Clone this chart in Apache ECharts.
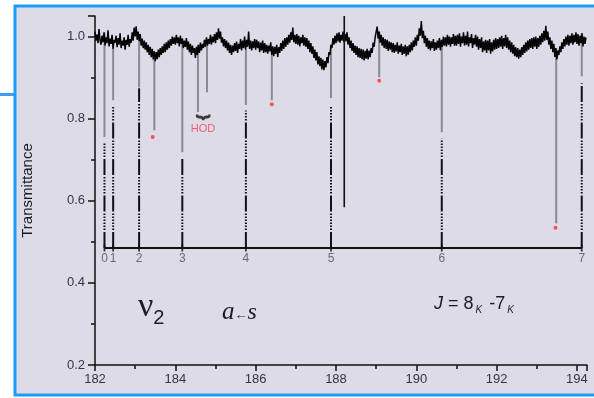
<!DOCTYPE html>
<html>
<head>
<meta charset="utf-8">
<script src="https://cdn.jsdelivr.net/npm/echarts@6/dist/echarts.min.js"></script>
<style>
  html, body { margin: 0; padding: 0; background: #ffffff; }
  #main { width: 594px; height: 398px; }
</style>
</head>
<body>
<div id="main"></div>
<script>
// spectrum trace, sampled every 0.025 cm-1 from 182.000
var traceStart = 182.0;
var traceStep = 0.025;
var traceValues = [
  1.012, 0.990, 1.005, 0.984, 1.018, 0.992, 0.980, 1.002, 0.986, 1.010,
  0.978, 0.998, 0.984, 1.015, 0.976, 0.995, 0.982, 1.004, 0.970, 0.992,
  0.985, 1.002, 0.974, 0.996, 0.980, 1.008, 0.972, 0.990, 0.978, 0.998,
  0.968, 0.992, 0.980, 1.004, 0.975, 0.994, 0.985, 1.010, 0.990, 1.022,
  // 183
  1.000, 1.025, 0.992, 1.012, 0.988, 1.006, 0.978, 0.995, 0.972, 0.990,
  0.968, 0.986, 0.962, 0.980, 0.955, 0.975, 0.950, 0.970, 0.944, 0.964,
  0.940, 0.962, 0.945, 0.968, 0.950, 0.972, 0.955, 0.976, 0.960, 0.982,
  0.962, 0.986, 0.968, 0.990, 0.972, 0.994, 0.978, 1.000, 0.982, 0.998,
  // 184
  0.980, 1.004, 0.984, 0.998, 0.976, 1.002, 0.982, 0.995, 0.972, 0.990,
  0.975, 0.996, 0.968, 0.988, 0.962, 0.982, 0.955, 0.978, 0.960, 0.972,
  0.948, 0.975, 0.955, 0.980, 0.960, 0.985, 0.966, 0.982, 0.972, 0.992,
  0.975, 0.998, 0.978, 0.994, 0.982, 1.004, 0.980, 1.000, 0.986, 1.006,
  // 185
  0.984, 1.010, 0.992, 1.020, 0.995, 1.012, 0.985, 0.998, 0.976, 0.994,
  0.972, 0.990, 0.966, 0.985, 0.960, 0.980, 0.955, 0.978, 0.962, 0.984,
  0.965, 0.988, 0.960, 0.982, 0.970, 0.994, 0.966, 0.990, 0.972, 1.000,
  0.968, 0.992, 0.975, 1.012, 0.970, 0.990, 0.966, 0.988, 0.972, 0.994,
  // 186
  0.968, 0.992, 0.972, 0.988, 0.962, 0.985, 0.966, 0.990, 0.960, 0.984,
  0.962, 0.980, 0.958, 0.978, 0.964, 0.986, 0.955, 0.976, 0.952, 0.975,
  0.958, 0.980, 0.950, 0.974, 0.960, 0.984, 0.965, 0.990, 0.970, 0.996,
  0.975, 0.998, 0.980, 1.004, 0.985, 1.010, 0.992, 1.022, 0.986, 1.004,
  // 187
  0.982, 1.006, 0.980, 1.002, 0.976, 0.998, 0.984, 1.004, 0.978, 0.998,
  0.975, 0.996, 0.970, 0.990, 0.962, 0.984, 0.958, 0.976, 0.948, 0.968,
  0.942, 0.962, 0.932, 0.952, 0.928, 0.948, 0.920, 0.944, 0.918, 0.940,
  0.925, 0.950, 0.935, 0.962, 0.955, 0.980, 0.972, 0.996, 0.980, 1.002,
  // 188
  0.984, 1.008, 0.988, 1.010, 0.985, 1.004, 0.990, 1.012, 0.986, 1.006,
  0.988, 1.010, 0.980, 0.998, 0.972, 0.990, 0.965, 0.984, 0.960, 0.978,
  0.955, 0.976, 0.950, 0.972, 0.948, 0.970, 0.945, 0.968, 0.942, 0.965,
  0.946, 0.970, 0.944, 0.966, 0.950, 0.972, 0.960, 0.985, 0.975, 0.998,
  // 189
  1.000, 1.024, 0.995, 1.012, 0.985, 1.004, 0.978, 0.998, 0.972, 0.994,
  0.970, 0.992, 0.965, 0.988, 0.968, 0.986, 0.962, 0.984, 0.960, 0.980,
  0.964, 0.986, 0.958, 0.978, 0.962, 0.982, 0.955, 0.976, 0.958, 0.980,
  0.952, 0.976, 0.956, 0.980, 0.962, 0.986, 0.966, 0.990, 0.975, 0.998,
  // 190
  0.978, 1.004, 0.990, 1.020, 1.002, 1.038, 0.996, 1.014, 0.984, 1.002,
  0.975, 0.996, 0.970, 0.990, 0.966, 0.988, 0.972, 0.994, 0.965, 0.986,
  0.968, 0.990, 0.972, 0.996, 0.966, 0.992, 0.975, 1.000, 0.978, 0.998,
  0.976, 1.004, 0.980, 1.000, 0.975, 0.998, 0.982, 1.006, 0.978, 1.002,
  // 191
  0.978, 1.004, 0.982, 1.008, 0.975, 1.000, 0.984, 1.010, 0.978, 1.002,
  0.980, 1.012, 0.976, 0.998, 0.984, 1.006, 0.972, 0.996, 0.980, 1.004,
  0.975, 1.000, 0.968, 0.994, 0.972, 0.998, 0.962, 0.988, 0.966, 0.992,
  0.960, 0.990, 0.966, 0.994, 0.958, 0.986, 0.964, 0.992, 0.968, 0.996,
  // 192
  0.970, 0.994, 0.972, 0.998, 0.975, 1.002, 0.970, 0.996, 0.976, 1.004,
  0.972, 0.998, 0.968, 0.990, 0.962, 0.986, 0.958, 0.980, 0.952, 0.974,
  0.950, 0.972, 0.946, 0.968, 0.950, 0.974, 0.955, 0.980, 0.960, 0.986,
  0.964, 0.990, 0.968, 0.994, 0.972, 0.996, 0.970, 0.998, 0.975, 1.000,
  // 193
  0.970, 0.996, 0.975, 1.002, 0.980, 1.008, 0.986, 1.014, 0.990, 1.026,
  0.992, 1.012, 0.980, 0.998, 0.970, 0.990, 0.962, 0.982, 0.950, 0.972,
  0.944, 0.966, 0.955, 0.976, 0.962, 0.986, 0.970, 0.994, 0.976, 1.000,
  0.980, 1.004, 0.978, 1.002, 0.984, 1.008, 0.980, 1.004, 0.986, 1.010,
  // 194
  0.982, 1.006, 0.978, 1.002, 0.984, 1.008, 0.976, 1.000, 0.982, 0.998
];

// sharp absorption lines (observed)
var dipPos = [182.236, 182.452, 183.098, 183.478, 184.174, 184.564, 184.788, 185.757, 186.402, 187.876, 189.076, 190.634, 193.483, 194.119];
var dipMin = [0.755, 0.845, 0.876, 0.772, 0.718, 0.816, 0.864, 0.833, 0.845, 0.850, 0.901, 0.767, 0.545, 0.903];

// calculated K sticks
var kLabels = ['0', '1', '2', '3', '4', '5', '6', '7'];
var kPos = [182.236, 182.452, 183.098, 184.174, 185.757, 187.876, 190.634, 194.119];
var kTop = [0.740, 0.832, 0.874, 0.704, 0.820, 0.832, 0.752, 0.886];
var stickBase = 0.485;

// marked lines (red dots)
var dotPos = [183.436, 186.402, 189.076, 193.466];
var dotVal = [0.755, 0.835, 0.892, 0.534];

// single solid marker line
var solidLine = [[188.206, 0.584], [188.206, 1.05]];

var xTicks = [182, 184, 186, 188, 190, 192, 194];
var yTicks = [0.2, 0.4, 0.6, 0.8, 1.0];

var chart = echarts.init(document.getElementById('main'));

var trace = traceValues.map(function (v, i) { return [+(traceStart + i * traceStep).toFixed(3), v]; });

function traceAt(x) {
  var i = Math.round((x - traceStart) / traceStep);
  i = Math.max(0, Math.min(traceValues.length - 1, i));
  return traceValues[i];
}

var dipData = [];
dipPos.forEach(function (x, i) {
  dipData.push([x, traceAt(x)], [x, dipMin[i]], [x, '-']);
});

var stickData = [];
kPos.forEach(function (x, i) {
  stickData.push([x, stickBase], [x, kTop[i]], [x, '-']);
});

var axisFont = 'Liberation Sans, Arial, sans-serif';

var option = {
  backgroundColor: '#ffffff',
  animation: false,
  graphic: [
    { type: 'rect', shape: { x: 15, y: 6, width: 600, height: 389 },
      style: { fill: '#dcdbe7', stroke: '#1d9bf5', lineWidth: 3 }, z: -10 },
    { type: 'rect', shape: { x: 0, y: 93, width: 14, height: 3 }, style: { fill: '#3a9ff0' }, z: -10 },
    { type: 'text', left: 138, top: 290, z: 10,
      style: { text: '{v|ν}{s|2}', rich: {
        v: { fontFamily: 'Liberation Serif, serif', fontSize: 34, fill: '#1a1a2a' },
        s: { fontFamily: 'Liberation Sans, sans-serif', fontSize: 20, fill: '#1a1a2a', padding: [22, 0, 0, 0] }
      } } },
    { type: 'text', left: 222, top: 300, z: 10,
      style: { text: '{a|a}{r|←}{b|s}', rich: {
        a: { fontFamily: 'Liberation Serif, serif', fontStyle: 'italic', fontSize: 25, fill: '#1a1a2a' },
        b: { fontFamily: 'Liberation Serif, serif', fontStyle: 'italic', fontSize: 24, fill: '#1a1a2a' },
        r: { fontFamily: 'Liberation Sans, sans-serif', fontSize: 13, fill: '#1a1a2a', padding: [5, 0, 0, 0] }
      } } },
    { type: 'text', left: 434, top: 295, z: 10,
      style: { text: '{j|J}{t| = 8}{k|K}{t| -7}{k|K}', rich: {
        j: { fontFamily: 'Liberation Sans, sans-serif', fontStyle: 'italic', fontSize: 18, fill: '#1a1a2a' },
        t: { fontFamily: 'Liberation Sans, sans-serif', fontSize: 18, fill: '#1a1a2a' },
        k: { fontFamily: 'Liberation Sans, sans-serif', fontStyle: 'italic', fontSize: 10, fill: '#1a1a2a', padding: [13, 2, 0, 2] }
      } } }
  ],
  grid: { left: 95, right: 7, top: 16, bottom: 33, containLabel: false },
  xAxis: {
    type: 'value', min: 182, max: 194.25, interval: 2,
    axisLine: { show: true, onZero: false, lineStyle: { color: '#111', width: 1.5 } },
    axisTick: { show: true, length: 6, lineStyle: { color: '#111', width: 1.5 } },
    minorTick: { show: true, splitNumber: 2, length: 4, lineStyle: { color: '#111', width: 1.5 } },
    splitLine: { show: false },
    axisLabel: { color: '#35354a', fontFamily: axisFont, fontSize: 13, margin: 8, showMaxLabel: false,
      formatter: function (v) { return xTicks.indexOf(v) >= 0 ? String(v) : ''; } }
  },
  yAxis: {
    type: 'value', min: 0.2, max: 1.05, interval: 0.2,
    name: 'Transmittance', nameLocation: 'middle', nameGap: 60,
    nameTextStyle: { color: '#1a1a2a', fontFamily: axisFont, fontSize: 15 },
    axisLine: { show: true, onZero: false, lineStyle: { color: '#111', width: 1.5 } },
    axisTick: { show: true, length: 7, lineStyle: { color: '#111', width: 1.5 } },
    minorTick: { show: true, splitNumber: 2, length: 4, lineStyle: { color: '#111', width: 1.5 } },
    splitLine: { show: false },
    axisLabel: { color: '#35354a', fontFamily: axisFont, fontSize: 13, margin: 10, showMaxLabel: false,
      formatter: function (v) {
        var hit = yTicks.some(function (t) { return Math.abs(t - v) < 1e-6; });
        return hit ? v.toFixed(1) : '';
      } }
  },
  series: [
    {
      name: 'dips', type: 'line', data: dipData, symbol: 'none', connectNulls: false,
      lineStyle: { color: '#8a8a92', width: 2 }, z: 2
    },
    {
      name: 'trace', type: 'line', data: trace, symbol: 'none',
      lineStyle: { color: '#050505', width: 1.5 }, z: 3
    },
    {
      name: 'solid', type: 'line', data: solidLine, symbol: 'none',
      lineStyle: { color: '#111', width: 1.6 }, z: 4
    },
    {
      name: 'sticks', type: 'line', data: stickData, symbol: 'none', connectNulls: false,
      lineStyle: { color: '#111', width: 2, type: [16, 2, 1.5, 1.5, 1.5, 1.5, 1.5, 1.5, 1.5, 1.5, 1.5, 1.5, 1.5, 2] }, z: 4
    },
    {
      name: 'kAxis', type: 'line', symbol: 'none',
      data: [[kPos[0], stickBase], [kPos[kPos.length - 1], stickBase]],
      lineStyle: { color: '#111', width: 1.8 }, z: 5
    },
    {
      name: 'kTicks', type: 'scatter', symbol: 'rect', symbolSize: [1.8, 7],
      data: kPos.map(function (x, i) { return { value: [x, stickBase], name: kLabels[i] }; }),
      itemStyle: { color: '#111' },
      label: { show: true, position: 'bottom', distance: 1, formatter: '{b}',
        color: '#4a4a66', fontFamily: axisFont, fontSize: 12 },
      z: 5
    },
    {
      name: 'dots', type: 'scatter', symbol: 'circle', symbolSize: 4,
      data: dotPos.map(function (x, i) { return [x, dotVal[i]]; }),
      itemStyle: { color: '#ff3030' }, z: 6
    },
    {
      name: 'hod', type: 'scatter', symbolSize: 0,
      data: [{ value: [184.69, 0.776], name: 'HOD' }],
      label: { show: true, position: 'inside', formatter: '{b}', color: '#ff3a55',
        fontFamily: axisFont, fontSize: 11 },
      z: 6
    },
    {
      name: 'brace', type: 'scatter', symbolSize: 0,
      data: [{ value: [184.69, 0.832], name: '⏟' }],
      label: { show: true, position: 'inside', formatter: '{b}', color: '#111',
        fontFamily: 'DejaVu Sans, sans-serif', fontSize: 24, fontWeight: 'bold' },
      z: 6
    }
  ]
};

chart.setOption(option);
</script>
</body>
</html>
